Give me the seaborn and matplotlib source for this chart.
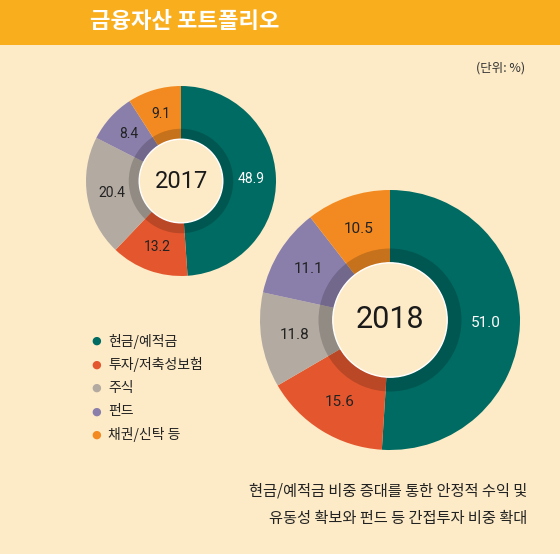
import matplotlib
matplotlib.use('Agg')
from matplotlib import pyplot as plt
import seaborn as sns

categories = ['현금/예적금', '투자/저축성보험', '주식', '펀드', '채권/신탁 등']
values_2017 = [48.9, 13.2, 20.4, 8.4, 9.1]
values_2018 = [51.0, 15.6, 11.8, 11.1, 10.5]
colors = ['#006b63', '#e4572e', '#b3aaa1', '#8a7fab', '#f28a21']
label_colors = ['white', '#222222', '#222222', '#222222', '#222222']

sns.set_style('white')
plt.rcParams['font.family'] = ['Noto Sans CJK KR', 'DejaVu Sans']

bg = '#fdebc8'
fig = plt.figure(figsize=(5.6, 5.54), dpi=100, facecolor=bg)


def donut(cx, cy, r, vals, year, fs_year, fs_lab):
    W, H = 560, 554
    ax = fig.add_axes([(cx - r) / W, 1 - (cy + r) / H, 2 * r / W, 2 * r / H])
    ax.set_facecolor('none')
    ax.pie(vals, colors=colors, startangle=90, counterclock=False, radius=1.0,
           wedgeprops=dict(width=0.56, edgecolor='none'))
    # darker inner band
    ax.pie([1], colors=['black'], radius=0.55, wedgeprops=dict(width=0.11, edgecolor='none', alpha=0.18))
    ax.pie([1], colors=[bg], radius=0.44)
    start = 90
    total = sum(vals)
    import numpy as np
    for v, c in zip(vals, label_colors):
        mid = np.deg2rad(start - v / total * 180)
        ax.text(0.74 * np.cos(mid), 0.74 * np.sin(mid), f'{v:.1f}', ha='center', va='center',
                fontsize=fs_lab, color=c, family=['Roboto', 'DejaVu Sans'])
        start -= v / total * 360
    ax.text(0, 0, year, ha='center', va='center', fontsize=fs_year, color='#1a1a1a',
            family=['Roboto', 'DejaVu Sans'])
    ax.set_xlim(-1, 1)
    ax.set_ylim(-1, 1)
    ax.set_aspect('equal')
    ax.axis('off')


donut(181, 181, 95, values_2017, '2017', 17, 10)
donut(390, 320, 130, values_2018, '2018', 22, 11)

# title bar
bar = fig.add_axes([0, 1 - 45 / 554, 1, 45 / 554])
bar.set_facecolor('#f9ae1d')
bar.set_xticks([]); bar.set_yticks([])
for s in bar.spines.values():
    s.set_visible(False)
fig.text(90 / 560, 1 - 22 / 554, '금융자산 포트폴리오', fontsize=16, fontweight='bold', color='white',
         ha='left', va='center')
fig.text(525 / 560, 1 - 68 / 554, '(단위: %)', fontsize=9, color='#333333', ha='right', va='center')

# legend
for i, (cat, c) in enumerate(zip(categories, colors)):
    y = 1 - (341 + i * 23.5) / 554
    fig.text(96 / 560, y, '●', color=c, fontsize=8, ha='center', va='center', family=['DejaVu Sans'])
    fig.text(108 / 560, y, cat, color='#222222', fontsize=10, ha='left', va='center')

fig.text(527 / 560, 1 - 491 / 554, '현금/예적금 비중 증대를 통한 안정적 수익 및', fontsize=11,
         color='#222222', ha='right', va='center')
fig.text(527 / 560, 1 - 519 / 554, '유동성 확보와 펀드 등 간접투자 비중 확대', fontsize=11,
         color='#222222', ha='right', va='center')

fig.savefig('out.png', dpi=100, facecolor=bg)
